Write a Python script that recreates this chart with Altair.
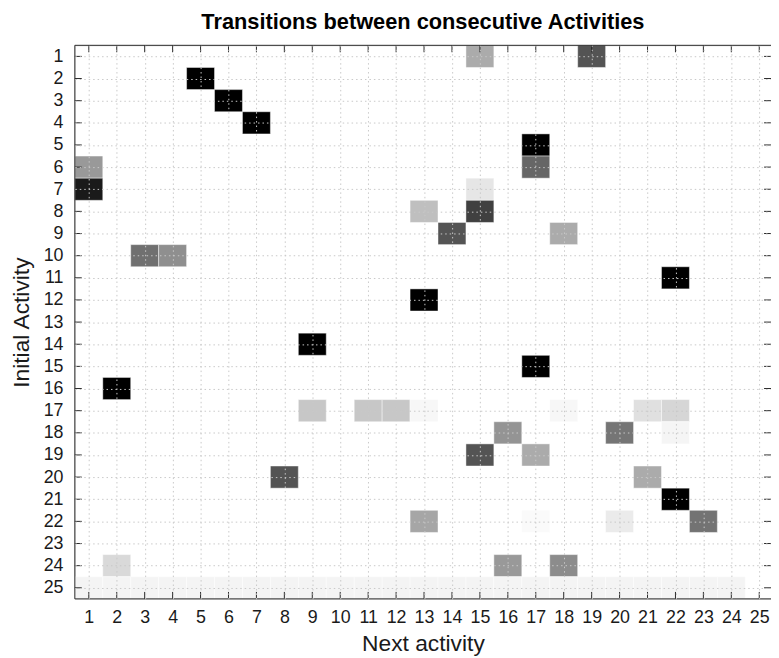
import altair as alt
import pandas as pd

# ---- data: non-zero entries of the transition matrix ----
initial_activity = [1, 1, 2, 3, 4, 5, 6, 6, 7, 7, 8, 8, 9, 9, 10, 10, 11, 12, 14, 15, 16,
                    17, 17, 17, 17, 17, 17, 17, 18, 18, 18, 19, 19, 20, 20, 21,
                    22, 22, 22, 22, 24, 24, 24] + [25] * 24
next_activity = [15, 19, 5, 6, 7, 17, 1, 17, 1, 15, 13, 15, 14, 18, 3, 4, 22, 13, 9, 17, 2,
                 9, 11, 12, 13, 18, 21, 22, 16, 20, 22, 15, 17, 8, 21, 22,
                 13, 17, 20, 23, 2, 16, 18] + list(range(1, 25))
probability = [0.33, 0.67, 1.0, 1.0, 1.0, 1.0, 0.40, 0.60, 0.90, 0.10, 0.25, 0.75, 0.67, 0.33,
               0.56, 0.44, 1.0, 1.0, 1.0, 1.0, 1.0,
               0.22, 0.22, 0.22, 0.03, 0.03, 0.12, 0.16, 0.42, 0.54, 0.04, 0.67, 0.33,
               0.67, 0.33, 1.0, 0.35, 0.02, 0.08, 0.55, 0.15, 0.40, 0.45] + [0.042] * 24
tick_values = list(range(1, 26))

TITLE = "Transitions between consecutive Activities"
X_TITLE = "Next activity"
Y_TITLE = "Initial Activity"

# ---- layout ----
W, H = 703, 559
PX_X = 28.21          # pixels per activity step on x
PX_Y = H / 25.0       # pixels per activity step on y
XMIN = 0.5
XMAX = XMIN + W / PX_X
YMIN, YMAX = 0.5, 25.5
TICK = 7
FONT = "Liberation Sans"
INK = "#262626"

cells = pd.DataFrame({"initial": initial_activity, "next": next_activity, "p": probability})
cells["x0"] = cells["next"] - 0.5
cells["x1"] = cells["next"] + 0.5
cells["y0"] = cells["initial"] - 0.5
cells["y1"] = cells["initial"] + 0.5

# inward tick marks and frame lines, built from the tick values
tx = TICK / PX_X
ty = TICK / PX_Y
rows = []
for t in tick_values:
    rows.append({"x": t, "x2": t, "y": YMAX, "y2": YMAX - ty})      # bottom
    rows.append({"x": t, "x2": t, "y": YMIN, "y2": YMIN + ty})      # top
    rows.append({"x": XMIN, "x2": XMIN + tx, "y": t, "y2": t})      # left
    rows.append({"x": XMAX, "x2": XMAX - tx, "y": t, "y2": t})      # right
rows.append({"x": XMIN, "x2": XMIN, "y": YMIN, "y2": YMAX})
rows.append({"x": XMIN, "x2": XMAX, "y": YMIN, "y2": YMIN})
rows.append({"x": XMIN, "x2": XMAX, "y": YMAX, "y2": YMAX})
frame = pd.DataFrame(rows)

xscale = alt.Scale(domain=[XMIN, XMAX], nice=False, zero=False)
yscale = alt.Scale(domain=[YMIN, YMAX], nice=False, zero=False, reverse=True)

grid_style = dict(grid=True, gridColor="#c8c8c8", gridDash=[1.5, 3], gridWidth=1,
                  ticks=False, domain=False, zindex=1,
                  labelFont=FONT, labelFontSize=18, labelColor="#1a1a1a",
                  titleFont=FONT, titleFontSize=23, titleFontWeight="normal",
                  titleColor="#1a1a1a")

xaxis = alt.Axis(values=tick_values, title=X_TITLE, labelPadding=10, labelFlush=False,
                 titleY=52, titleBaseline="alphabetic", **grid_style)
yaxis = alt.Axis(values=tick_values, title=Y_TITLE, labelPadding=12,
                 titleX=-54, titleY=H / 2, titleAngle=-90, titleBaseline="middle",
                 **grid_style)

heat = alt.Chart(cells).mark_rect(stroke="white", strokeOpacity=0.45, strokeWidth=1).encode(
    x=alt.X("x0:Q", scale=xscale, axis=xaxis),
    x2="x1",
    y=alt.Y("y0:Q", scale=yscale, axis=yaxis),
    y2="y1",
    color=alt.Color("p:Q", scale=alt.Scale(domain=[0, 1], range=["#ffffff", "#000000"],
                                           interpolate="rgb"), legend=None),
)

ticks = alt.Chart(frame).mark_rule(color=INK, strokeWidth=1).encode(
    x=alt.X("x:Q", scale=xscale, axis=xaxis),
    x2="x2",
    y=alt.Y("y:Q", scale=yscale, axis=yaxis),
    y2="y2",
)

chart = alt.layer(heat, ticks).properties(
    width=W,
    height=H,
    title=alt.TitleParams(TITLE, font=FONT, fontSize=22, fontWeight="bold",
                          color="#000000", anchor="middle", offset=11),
    autosize="none",
    padding={"left": 67.5, "top": 34.5, "right": 0, "bottom": 55},
).configure_view(stroke=None).configure(background="white")

chart.save("out.html", embed_options={"renderer": "svg", "actions": False})
